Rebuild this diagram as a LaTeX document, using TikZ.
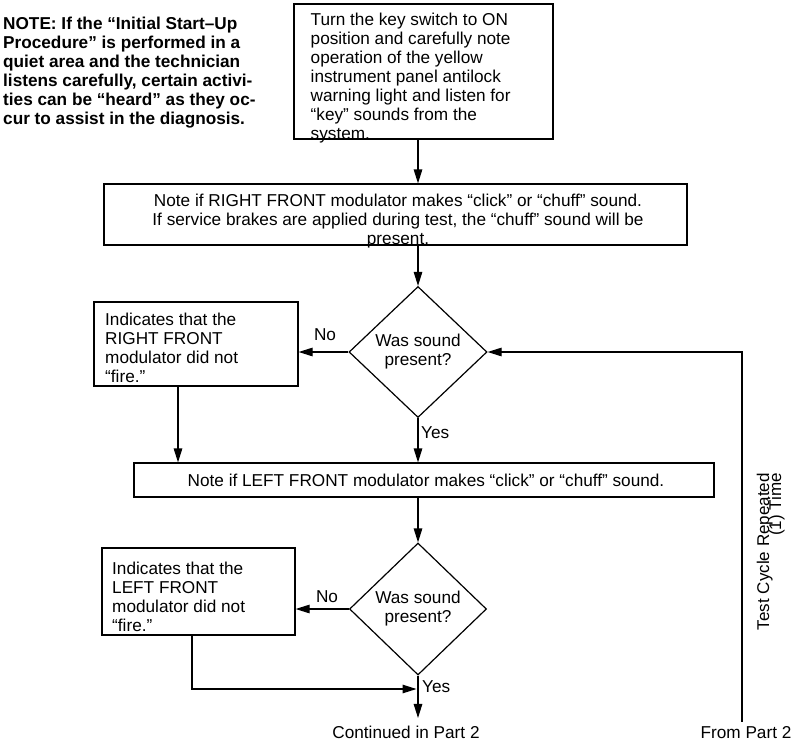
\documentclass[tikz,border=0pt]{standalone}
\usepackage{fontspec}
\setmainfont{Liberation Sans}
\usetikzlibrary{shapes.geometric,arrows.meta}
\newcommand\myfs{\fontsize{17.2}{19}\selectfont}
\newcommand\tightfs{\fontsize{17}{12}\selectfont\lineskiplimit=-100pt\relax\lineskip=0pt\relax}
\begin{document}
\begin{tikzpicture}[x=1pt,y=1pt,
  box/.style={draw, line width=1.2pt, inner sep=0pt},
  txt/.style={inner sep=0pt, font=\myfs, align=left},
  ctxt/.style={inner sep=0pt, font=\myfs, align=center},
  dia/.style={diamond, draw, line width=1.2pt, inner sep=0pt, font=\myfs, align=center},
  arr/.style={line width=1.2pt, -{Triangle[length=14pt,width=8.5pt]}},
  lbl/.style={font=\myfs, inner sep=0pt}]
\useasboundingbox (0,0) rectangle (800,-744);

% note
\node[txt, anchor=north west, font=\myfs\bfseries] (note) at (3,-17)
 {NOTE: If the “Initial Start–Up\\Procedure” is performed in a\\quiet area and the technician\\listens carefully, certain activi-\\ties can be “heard” as they oc-\\cur to assist in the diagnosis.};

% boxes
\node[box, minimum width=259pt, minimum height=135pt] (b1) at (423.5,-71.5) {};
\node[txt, anchor=north west] (t1) at (310.5,-12.9)
 {Turn the key switch to ON\\position and carefully note\\operation of the yellow\\instrument panel antilock\\warning light and listen for\\“key” sounds from the\\system.};

\node[box, minimum width=583pt, minimum height=61pt] (b2) at (395.5,-214.5) {};
\node[ctxt, anchor=north] (t2) at (398,-193.6)
 {Note if RIGHT FRONT modulator makes “click” or “chuff” sound.\\If service brakes are applied during test, the “chuff” sound will be\\present.};

\node[dia, minimum width=138pt, minimum height=131pt] (d1) at (418,-352) {Was sound\\present?};

\node[box, minimum width=204pt, minimum height=84pt] (b3) at (196,-344) {};
\node[txt, anchor=north west] (t3) at (105,-312.6)
 {Indicates that the\\RIGHT FRONT\\modulator did not\\“fire.”};

\node[box, minimum width=580pt, minimum height=34pt] (b4) at (424,-480) {};
\node[lbl] (t4) at (426,-480) {Note if LEFT FRONT modulator makes “click” or “chuff” sound.};

\node[dia, minimum width=137pt, minimum height=132pt] (d2) at (418,-609) {Was sound\\present?};

\node[box, minimum width=193pt, minimum height=87pt] (b5) at (198.5,-591.5) {};
\node[txt, anchor=north west] (t5) at (112,-561.6)
 {Indicates that the\\LEFT FRONT\\modulator did not\\“fire.”};

\node[lbl, inner ysep=7.5pt] (cont) at (406,-732) {Continued in Part 2};
\node[lbl, inner ysep=4.8pt] (from) at (746,-733) {From Part 2};

\node[rotate=90, anchor=north east, align=right, inner sep=0pt, font=\tightfs] (cyc) at (756.5,-473)
 {Test Cycle Repeated\\(1) Time};

% helper coordinates
\coordinate (c3) at (178,0);
\coordinate (c5) at (192,0);
\coordinate (lp) at (742,0);
\coordinate (jn) at (416.5,-689);

% connectors
\draw[arr] (b1.south -| d1.north) -- (b2.north -| d1.north);
\draw[arr] (b2.south -| d1.north) -- (d1.north);
\draw[arr] (d1.west) -- (b3.east |- d1.west);
\node[lbl] (no1) at (325,-335) {No};
\draw[arr] (b3.south -| c3) -- (b4.north -| c3);
\draw[arr] (d1.south) -- (b4.north -| d1.south);
\node[lbl, anchor=west] (yes1) at (421,-433) {Yes};
\draw[arr] (b4.south -| d2.north) -- (d2.north);
\draw[arr] (d2.west) -- (b5.east |- d2.west);
\node[lbl] (no2) at (327,-597) {No};
\draw[arr] (b5.south -| c5) |- (jn);
\draw[arr] (d2.south) -- (d2.south |- cont.north);
\node[lbl, anchor=west] (yes2) at (422,-687) {Yes};
\draw[arr] (from.north -| lp) |- (d1.east);
\end{tikzpicture}
\end{document}
